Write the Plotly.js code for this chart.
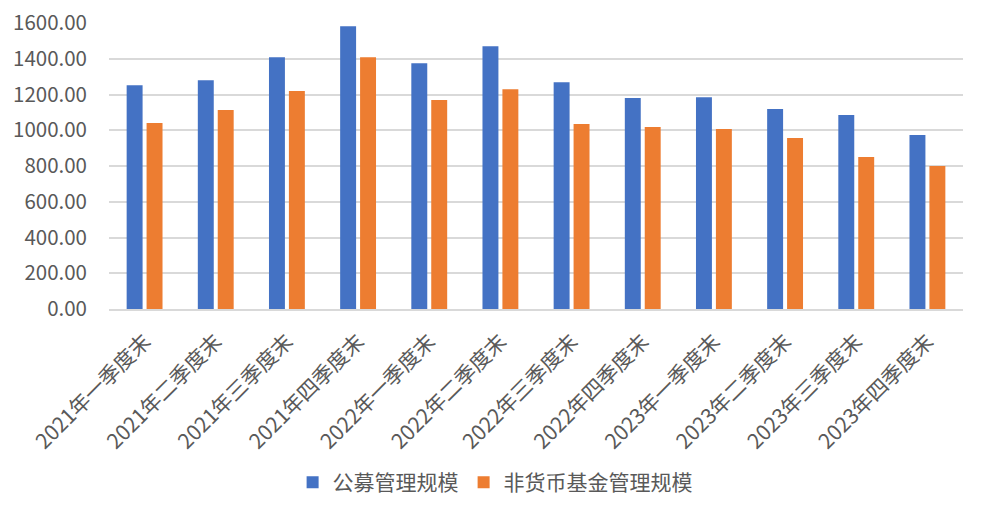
<!DOCTYPE html>
<html>
<head>
<meta charset="utf-8">
<script src="https://cdn.plot.ly/plotly-3.0.1.min.js"></script>
<style>html,body{margin:0;padding:0;background:#fff;}#chart{width:984px;height:512px;}</style>
</head>
<body>
<div id="chart"></div>
<script>
const categories = ["2021年一季度末","2021年二季度末","2021年三季度末","2021年四季度末","2022年一季度末","2022年二季度末","2022年三季度末","2022年四季度末","2023年一季度末","2023年二季度末","2023年三季度末","2023年四季度末"];
const publicScale = [1252, 1280, 1409, 1582, 1375, 1470, 1269, 1180, 1185, 1119, 1085, 973];
const nonMoneyScale = [1040, 1113, 1219, 1409, 1169, 1230, 1035, 1018, 1007, 957, 851, 800];
const seriesNames = ["公募管理规模", "非货币基金管理规模"];
const yTicks = [0, 200, 400, 600, 800, 1000, 1200, 1400, 1600];

const font = "'Noto Sans CJK SC', 'Noto Sans', sans-serif";
const data = [
  {type: "bar", x: categories, y: publicScale, name: seriesNames[0], marker: {color: "#4472C4"}},
  {type: "bar", x: categories, y: nonMoneyScale, name: seriesNames[1], marker: {color: "#ED7D31"}}
];
const layout = {
  width: 984, height: 512,
  margin: {l: 109, r: 21, t: 23, b: 202.5, autoexpand: false},
  paper_bgcolor: "#fff", plot_bgcolor: "#fff",
  barmode: "group", bargap: 0.44, bargroupgap: 0.2,
  font: {family: font, color: "#595959", size: 20},
  xaxis: {
    type: "category", tickangle: -45, showgrid: false,
    showline: true, linecolor: "#D9D9D9", linewidth: 2,
    ticks: "", tickfont: {size: 21, color: "#595959"}, ticklabelstandoff: 10
  },
  yaxis: {
    range: [0, 1600], tickvals: yTicks, tickformat: ".2f",
    showgrid: true, gridcolor: "#D9D9D9", gridwidth: 2,
    zeroline: false, showline: false, ticks: "",
    tickfont: {size: 20.5, color: "#595959"}, ticklabelstandoff: 21
  },
  showlegend: true,
  legend: {orientation: "h", x: 0.215, xanchor: "left", y: -0.535, yanchor: "top",
    font: {size: 21, color: "#595959"}, itemwidth: 30, traceorder: "normal"}
};
Plotly.newPlot("chart", data, layout, {displayModeBar: false, staticPlot: true});
</script>
</body>
</html>
